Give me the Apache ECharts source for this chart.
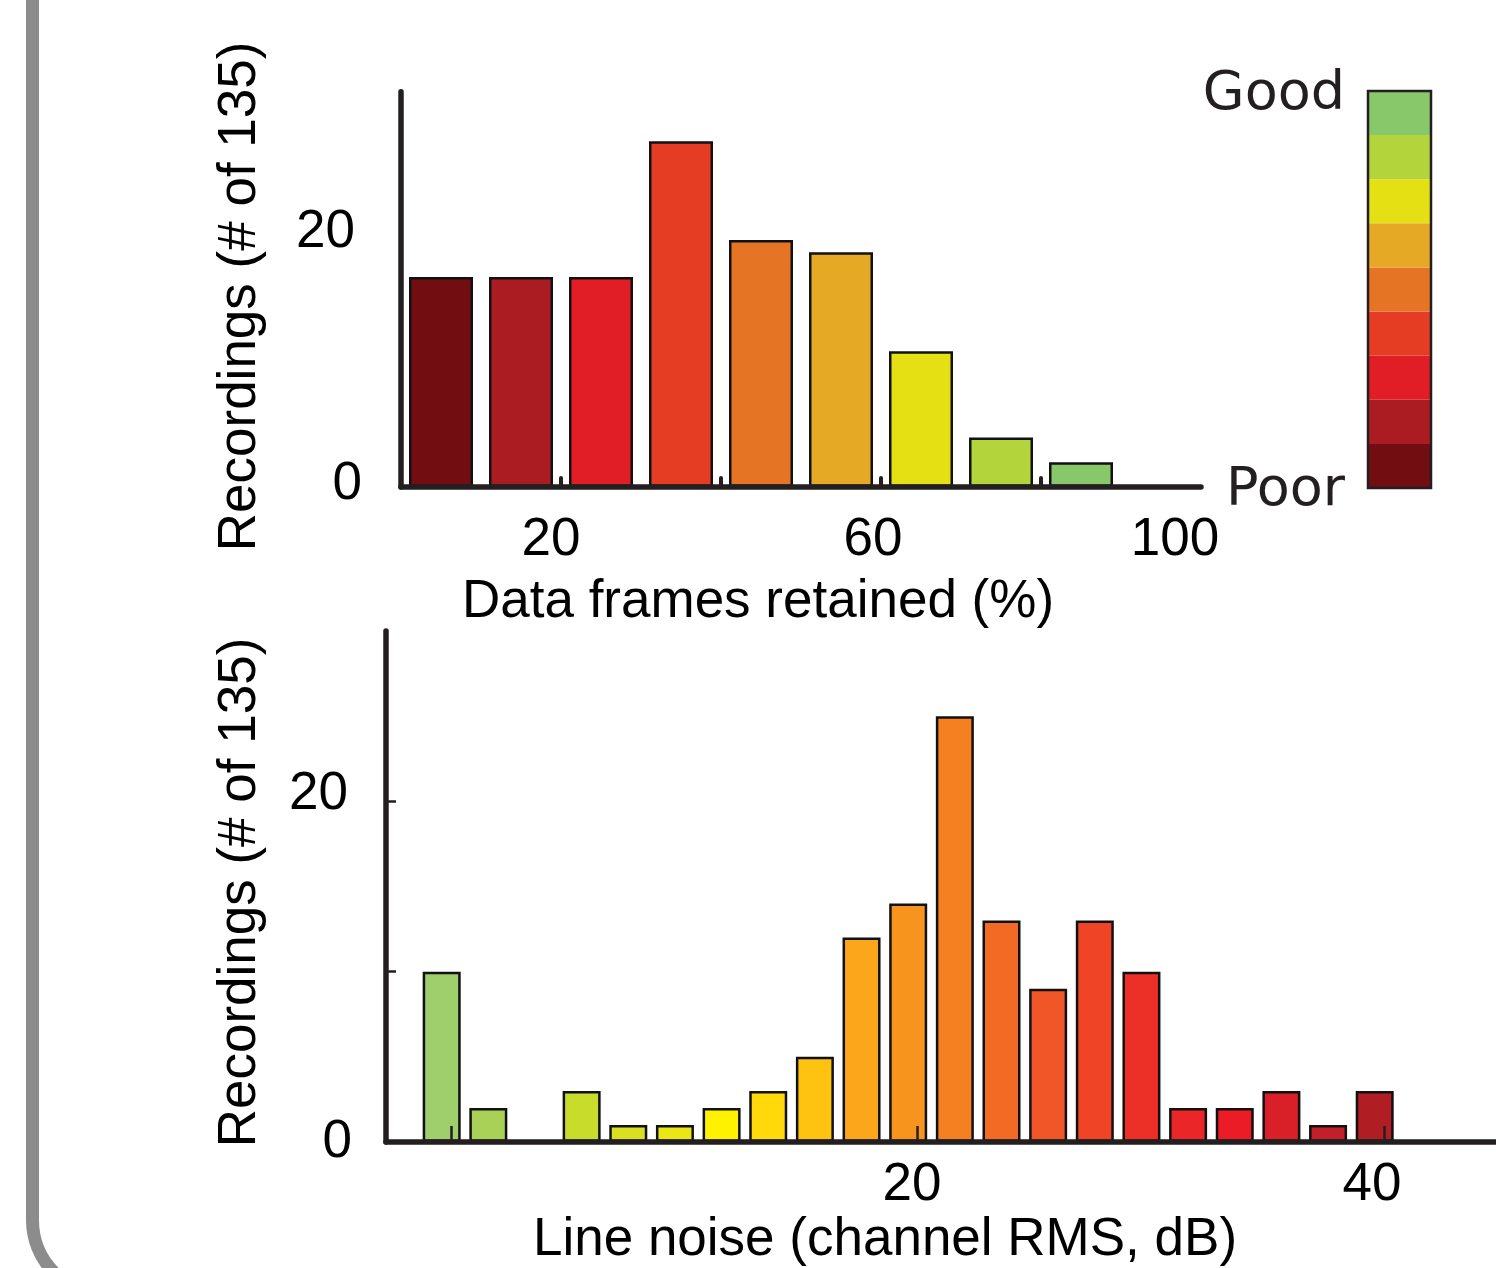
<!DOCTYPE html>
<html><head><meta charset="utf-8">
<script src="https://cdn.jsdelivr.net/npm/echarts@6/dist/echarts.min.js"></script>
<style>html,body{margin:0;padding:0;background:#fff}#c{width:1496px;height:1268px}</style>
</head><body><div id="c"></div>
<script>
// ---- Top histogram: data frames retained (%) ----
const framesCenters = [5, 15, 25, 35, 45, 55, 65, 75, 85];
const framesCounts  = [17, 17, 17, 28, 20, 19, 11, 4, 2];
const framesColors  = ['#720e11','#ab1c22','#e11d25','#e43d24','#e57425','#e5a926','#e5e014','#b4d43b','#88c76a'];
const framesTicks = [20, 40, 60, 80];
const framesTickLabels = [20, 60, 100];
const framesYLabels = [0, 20];

// ---- Bottom histogram: line noise (channel RMS, dB) ----
const noiseCenters = [-0.4, 1.6, 3.6, 5.6, 7.6, 9.6, 11.6, 13.6, 15.6, 17.6, 19.6, 21.6, 23.6, 25.6, 27.6, 29.6, 31.6, 33.6, 35.6, 37.6, 39.6];
const noiseCounts  = [10, 2, 0, 3, 1, 1, 2, 3, 5, 12, 14, 25, 13, 9, 13, 10, 2, 2, 3, 1, 3];
const noiseColors  = ['#9ecf6c','#a9d158','#bcd640','#c8dc2b','#d9e021','#ebe715','#fff200','#ffd90a','#fec210','#fba61b','#f7941e','#f58021','#f26a24','#f05627','#ef4526','#ec2f27','#ea2629','#ec1c26','#d91f27','#c21f2a','#b01e24'];
const noiseTicks = [0, 20, 40];
const noiseTickLabels = [20, 40];
const noiseYTicks = [10, 20];
const noiseYLabels = [0, 20];

// ---- Quality colour key ----
const keyLevels = ['1','2','3','4','5','6','7','8','9'];
const keyColors = framesColors;
const keyTop = 'Good', keyBottom = 'Poor';

const INK = '#231f20';
const FONT = '"Liberation Sans", Arial, Helvetica, sans-serif';
const FS = 53;
const AXW = 5.5;

const chart = echarts.init(document.getElementById('c'), null, {renderer: 'canvas'});

function rt(pad) { return {fontSize: FS, fontFamily: FONT, color: '#000', padding: pad}; }

const option = {
  backgroundColor: '#fff',
  animation: false,
  grid: [
    {left: 401, top: 91.8, width: 800, height: 395.2},
    {left: 386, top: 631, width: 1110, height: 516},
    {left: 1368, top: 91, width: 63, height: 397}
  ],
  xAxis: [
    {
      type: 'value', gridIndex: 0, min: 0, max: 100, z: 5,
      splitLine: {show: false},
      axisLine: {show: true, onZero: false, lineStyle: {color: INK, width: AXW, cap: 'round'}},
      axisTick: {show: true, inside: true, length: 9, customValues: framesTicks, lineStyle: {color: INK, width: 4, cap: 'round'}},
      axisLabel: {
        customValues: framesTickLabels, margin: 27, fontSize: FS, fontFamily: FONT, color: '#000',
        formatter: v => '{t' + v + '|' + v + '}',
        rich: {t20: rt([0, 20, 0, 0]), t60: rt([0, 16, 0, 0]), t100: rt([0, 52, 0, 0])}
      },
      name: 'Data frames retained (%)', nameLocation: 'middle', nameGap: 89,
      nameTextStyle: {fontSize: FS, fontFamily: FONT, color: '#000', padding: [0, 86, 0, 0]}
    },
    {
      type: 'value', gridIndex: 1, min: -2.787, max: 44.8, z: 5,
      splitLine: {show: false},
      axisLine: {show: true, onZero: false, lineStyle: {color: INK, width: AXW, cap: 'round'}},
      axisTick: {show: true, inside: true, length: 16, customValues: noiseTicks, lineStyle: {color: INK, width: 2.5}},
      axisLabel: {
        customValues: noiseTickLabels, margin: 17, fontSize: FS, fontFamily: FONT, color: '#000',
        formatter: v => '{t' + v + '|' + v + '}',
        rich: {t20: rt([0, 11, 0, 0]), t40: rt([0, 24, 0, 0])}
      },
      name: 'Line noise (channel RMS, dB)', nameLocation: 'middle', nameGap: 72,
      nameTextStyle: {fontSize: FS, fontFamily: FONT, color: '#000', padding: [0, 112, 0, 0]}
    },
    {type: 'value', gridIndex: 2, min: 0, max: 1, show: false}
  ],
  yAxis: [
    {
      type: 'value', gridIndex: 0, min: 0, max: 32, z: 5,
      splitLine: {show: false},
      axisLine: {show: true, onZero: false, lineStyle: {color: INK, width: AXW, cap: 'round'}},
      axisTick: {show: false},
      axisLabel: {
        customValues: framesYLabels, margin: 39, fontSize: FS, fontFamily: FONT, color: '#000',
        formatter: v => '{t' + v + '|' + v + '}',
        rich: {t0: rt([0, 0, 6, 0]), t20: rt([0, 7, 16, 0])}
      },
      name: 'Recordings (# of 135)', nameLocation: 'middle', nameGap: 134,
      nameTextStyle: {fontSize: FS, fontFamily: FONT, color: '#000', padding: [0, 14, 0, 0]}
    },
    {
      type: 'value', gridIndex: 1, min: 0, max: 30, z: 5,
      splitLine: {show: false},
      axisLine: {show: true, onZero: false, lineStyle: {color: INK, width: AXW, cap: 'round'}},
      axisTick: {show: true, inside: true, length: 10, customValues: noiseYTicks, lineStyle: {color: INK, width: 2.5}},
      axisLabel: {
        customValues: noiseYLabels, margin: 34, fontSize: FS, fontFamily: FONT, color: '#000',
        formatter: v => '{t' + v + '|' + v + '}',
        rich: {t0: rt([0, 0, 0, 0]), t20: rt([0, 4, 13, 0])}
      },
      name: 'Recordings (# of 135)', nameLocation: 'middle', nameGap: 119,
      nameTextStyle: {fontSize: FS, fontFamily: FONT, color: '#000', padding: [0, 12, 0, 0]}
    },
    {type: 'category', gridIndex: 2, data: keyLevels, show: false}
  ],
  series: [
    {
      type: 'bar', xAxisIndex: 0, yAxisIndex: 0, barWidth: 64,
      itemStyle: {borderColor: '#111', borderWidth: 2.5},
      data: framesCenters.map((x, i) => ({value: [x, framesCounts[i]], itemStyle: {color: framesColors[i]}}))
    },
    {
      type: 'bar', xAxisIndex: 1, yAxisIndex: 1, barWidth: 38,
      itemStyle: {borderColor: '#111', borderWidth: 2.5},
      data: noiseCenters.map((x, i) => ({value: [x, noiseCounts[i]], itemStyle: {color: noiseColors[i], borderWidth: noiseCounts[i] ? 2.5 : 0}}))
    },
    {
      type: 'bar', xAxisIndex: 2, yAxisIndex: 2, barCategoryGap: '0%',
      data: keyLevels.map((k, i) => ({value: 1, itemStyle: {color: keyColors[i]}}))
    }
  ],
  graphic: [
    {type: 'rect', z: 100, silent: true,
     shape: {x: 32.5, y: -100, width: 2000, height: 1395, r: 75},
     style: {fill: 'none', stroke: '#8c8c8c', lineWidth: 13}},
    {type: 'rect', z: 100, silent: true,
     shape: {x: 1368, y: 91, width: 63, height: 397},
     style: {fill: 'none', stroke: INK, lineWidth: 2.5}},
    {type: 'text', z: 100, silent: true,
     style: {text: keyTop, x: 1345, y: 95, align: 'right', textAlign: 'right', verticalAlign: 'middle', textVerticalAlign: 'middle',
             fontSize: 54, fontFamily: '"DejaVu Sans", sans-serif', fill: INK}},
    {type: 'text', z: 100, silent: true,
     style: {text: keyBottom, x: 1345, y: 491, align: 'right', textAlign: 'right', verticalAlign: 'middle', textVerticalAlign: 'middle',
             fontSize: 54, fontFamily: '"DejaVu Sans", sans-serif', fill: INK}}
  ]
};
chart.setOption(option);
</script></body></html>
